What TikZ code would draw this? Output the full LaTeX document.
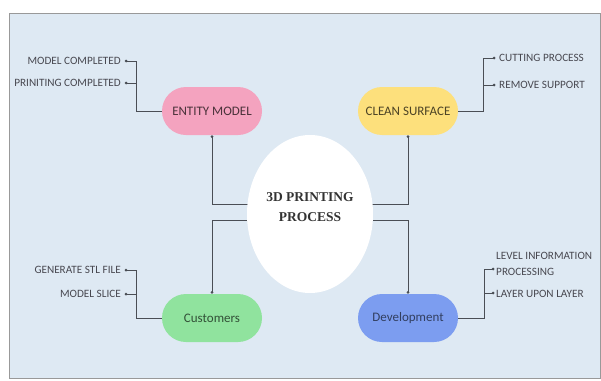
\documentclass[tikz,border=0pt]{standalone}
\usepackage{fontspec}
\setmainfont{Carlito}
\newfontfamily\serifb{Liberation Serif}
\usetikzlibrary{shapes.geometric,calc}
\pgfdeclarelayer{bg}
\pgfdeclarelayer{ln}
\pgfsetlayers{bg,ln,main}
\definecolor{panel}{HTML}{DEE9F3}
\definecolor{pinkc}{HTML}{F4A3BF}
\definecolor{yellc}{HTML}{FDE07C}
\definecolor{greenc}{HTML}{90E39E}
\definecolor{bluec}{HTML}{7C9DF0}
\definecolor{leafc}{HTML}{484850}
\definecolor{linec}{HTML}{4A4E55}
\tikzset{
  topic/.style={rectangle, rounded corners=24pt, minimum width=100pt, minimum height=48pt, inner sep=0pt, font=\fontsize{13}{16}\selectfont},
  leaf/.style={font=\fontsize{11.2}{16}\selectfont, text=leafc, inner sep=0pt},
  dot/.style={circle, fill=linec, inner sep=0pt, minimum size=3pt},
  conn/.style={draw=linec, line width=0.9pt}
}
\begin{document}
\begin{tikzpicture}[x=1pt,y=-1pt]
\useasboundingbox (0,0) rectangle (601,380);
\begin{pgfonlayer}{bg}
\draw[fill=panel, draw=gray!80, line width=0.8pt] (9,13) rectangle (600,378);
\end{pgfonlayer}

% centre
\node[ellipse, fill=white, minimum width=126pt, minimum height=158pt, inner sep=0pt] (c) at (310,214) {};
\node[align=center, inner sep=0pt, font=\serifb\bfseries\fontsize{13.5}{20}\selectfont, text=black!80] (ct) at ([yshift=7pt]c.center) {3D PRINTING\\PROCESS};

% topics
\node[topic, fill=pinkc, text=black!70!pinkc] (em) at (212,111) {ENTITY MODEL};
\node[topic, fill=yellc, text=black!70!yellc] (cs) at (408,111) {CLEAN SURFACE};
\node[topic, fill=greenc, text=black!65!greenc] (cu) at (212,318) {Customers};
\node[topic, fill=bluec, text=black!60!bluec] (dv) at (408,318) {Development};

% end dots at topics
\node[dot] (em0) at ([yshift=-1.5pt]em.south) {};
\node[dot] (cs0) at ([yshift=-1.5pt]cs.south) {};
\node[dot] (cu0) at ([yshift=1.5pt]cu.north) {};
\node[dot] (dv0) at ([yshift=1.5pt]dv.north) {};

% main connectors
\begin{pgfonlayer}{ln}
\draw[conn] (em0.center) |- ([yshift=10pt]c.center);
\draw[conn] (cu0.center) |- ([yshift=-6pt]c.center);
\draw[conn] (cs0.center) |- ([yshift=10pt]c.center);
\draw[conn] (dv0.center) |- ([yshift=-6pt]c.center);
\end{pgfonlayer}

% leaves: entity model
\node[dot] (e1) at (126,61) {};
\node[dot] (e2) at (126,83) {};
\node[leaf, anchor=east] (e1t) at (121,61) {MODEL COMPLETED};
\node[leaf, anchor=east] (e2t) at (121,83) {PRINITING COMPLETED};
\draw[conn] (e1.center) -| ([xshift=-25pt]em.west) -- (em.west);
\draw[conn] (e2.center) -| ([xshift=-25pt]em.west);

% leaves: clean surface
\node[dot] (s1) at (494,58) {};
\node[dot] (s2) at (494,85) {};
\node[leaf, anchor=west] (s1t) at (499,58) {CUTTING PROCESS};
\node[leaf, anchor=west] (s2t) at (499,85) {REMOVE SUPPORT};
\draw[conn] (s1.center) -| ([xshift=25pt]cs.east) -- (cs.east);
\draw[conn] (s2.center) -| ([xshift=25pt]cs.east);

% leaves: customers
\node[dot] (u1) at (126,270) {};
\node[dot] (u2) at (126,294) {};
\node[leaf, anchor=east] (u1t) at (121,270) {GENERATE STL FILE};
\node[leaf, anchor=east] (u2t) at (121,294) {MODEL SLICE};
\draw[conn] (u1.center) -| ([xshift=-25pt]cu.west) -- (cu.west);
\draw[conn] (u2.center) -| ([xshift=-25pt]cu.west);

% leaves: development
\node[dot] (v1) at (493,269) {};
\node[dot] (v2) at (493,293) {};
\node[leaf, anchor=west, align=left] (v1t) at (496,264) {LEVEL INFORMATION\\PROCESSING};
\node[leaf, anchor=west] (v2t) at (496,294) {LAYER UPON LAYER};
\draw[conn] (v1.center) -| ([xshift=26pt]dv.east) -- (dv.east);
\draw[conn] (v2.center) -| ([xshift=26pt]dv.east);
\end{tikzpicture}
\end{document}
